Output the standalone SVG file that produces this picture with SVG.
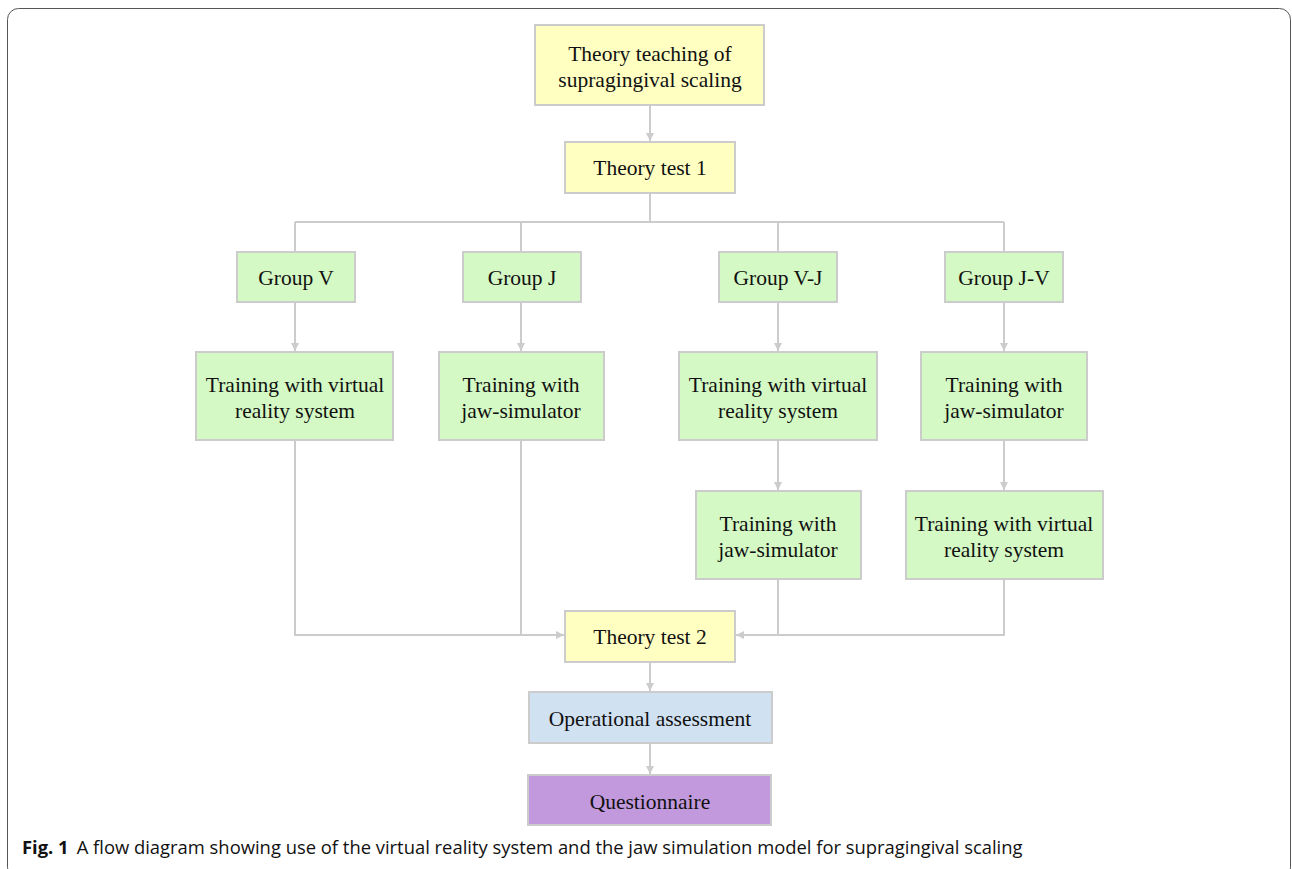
<svg xmlns="http://www.w3.org/2000/svg" width="1292" height="869" viewBox="0 0 1292 869">
<defs>
<style>
.box{stroke:#cccccc;stroke-width:2}
.y{fill:#ffffc2}.g{fill:#d4f9c4}.b{fill:#d0e1f1}.p{fill:#c299dd}
.t{font-family:"Liberation Serif","Times New Roman",serif;font-size:21.5px;fill:#111;text-anchor:middle}
.c{fill:none;stroke:#cccccc;stroke-width:2}
.cap{font-family:"Open Sans","Noto Sans",sans-serif;font-size:18.4px;fill:#111}
</style>
<marker id="ah" markerWidth="10" markerHeight="10" refX="8" refY="4" orient="auto" markerUnits="userSpaceOnUse">
<path d="M0,0 L8,4 L0,8 Z" fill="#cccccc"/>
</marker>
</defs>
<rect x="0" y="0" width="1292" height="869" fill="#ffffff"/>
<rect x="7.5" y="8.5" width="1283" height="870" rx="11" fill="none" stroke="#555555" stroke-width="1"/>
<g id="connectors">
<path class="c" d="M650,105 V141" marker-end="url(#ah)"/>
<path class="c" d="M650,193 V222 M295,222 H1004 M295,222 V252 M521,222 V252 M778,222 V252 M1004,222 V252"/>
<path class="c" d="M295,302 V351" marker-end="url(#ah)"/>
<path class="c" d="M521,302 V351" marker-end="url(#ah)"/>
<path class="c" d="M778,302 V351" marker-end="url(#ah)"/>
<path class="c" d="M1004,302 V351" marker-end="url(#ah)"/>
<path class="c" d="M778,440 V490" marker-end="url(#ah)"/>
<path class="c" d="M1004,440 V490" marker-end="url(#ah)"/>
<path class="c" d="M295,440 V635 H564" marker-end="url(#ah)"/>
<path class="c" d="M521,440 V635"/>
<path class="c" d="M1004,579 V635 H736" marker-end="url(#ah)"/>
<path class="c" d="M778,579 V635"/>
<path class="c" d="M650,662 V691" marker-end="url(#ah)"/>
<path class="c" d="M650,743 V774" marker-end="url(#ah)"/>
</g>
<g id="n_theory_teaching"><rect class="box y" x="535" y="25" width="229" height="80"/><text class="t" x="650" y="61">Theory teaching of</text><text class="t" x="650" y="87">supragingival scaling</text></g>
<g id="n_test1"><rect class="box y" x="565" y="142" width="170" height="51"/><text class="t" x="650" y="175">Theory test 1</text></g>
<g id="n_group_v"><rect class="box g" x="237" y="252" width="118" height="50"/><text class="t" x="296" y="285">Group V</text></g>
<g id="n_group_j"><rect class="box g" x="463" y="252" width="118" height="50"/><text class="t" x="522" y="285">Group J</text></g>
<g id="n_group_vj"><rect class="box g" x="719" y="252" width="118" height="50"/><text class="t" x="778" y="285">Group V-J</text></g>
<g id="n_group_jv"><rect class="box g" x="945" y="252" width="118" height="50"/><text class="t" x="1004" y="285">Group J-V</text></g>
<g id="n_v_vr"><rect class="box g" x="196" y="352" width="197" height="88"/><text class="t" x="295" y="392">Training with virtual</text><text class="t" x="295" y="418">reality system</text></g>
<g id="n_j_jaw"><rect class="box g" x="439" y="352" width="165" height="88"/><text class="t" x="521" y="392">Training with</text><text class="t" x="521" y="418">jaw-simulator</text></g>
<g id="n_vj_vr"><rect class="box g" x="679" y="352" width="198" height="88"/><text class="t" x="778" y="392">Training with virtual</text><text class="t" x="778" y="418">reality system</text></g>
<g id="n_jv_jaw"><rect class="box g" x="921" y="352" width="166" height="88"/><text class="t" x="1004" y="392">Training with</text><text class="t" x="1004" y="418">jaw-simulator</text></g>
<g id="n_vj_jaw"><rect class="box g" x="696" y="491" width="165" height="88"/><text class="t" x="778" y="531">Training with</text><text class="t" x="778" y="557">jaw-simulator</text></g>
<g id="n_jv_vr"><rect class="box g" x="906" y="491" width="197" height="88"/><text class="t" x="1004" y="531">Training with virtual</text><text class="t" x="1004" y="557">reality system</text></g>
<g id="n_test2"><rect class="box y" x="565" y="611" width="170" height="51"/><text class="t" x="650" y="644">Theory test 2</text></g>
<g id="n_operational"><rect class="box b" x="529" y="692" width="243" height="51"/><text class="t" x="650" y="726">Operational assessment</text></g>
<g id="n_questionnaire"><rect class="box p" x="528" y="775" width="243" height="50"/><text class="t" x="650" y="809">Questionnaire</text></g>
<text class="cap" x="22" y="854"><tspan font-weight="bold">Fig. 1</tspan><tspan dx="8">A flow diagram showing use of the virtual reality system and the jaw simulation model for supragingival scaling</tspan></text>
</svg>
